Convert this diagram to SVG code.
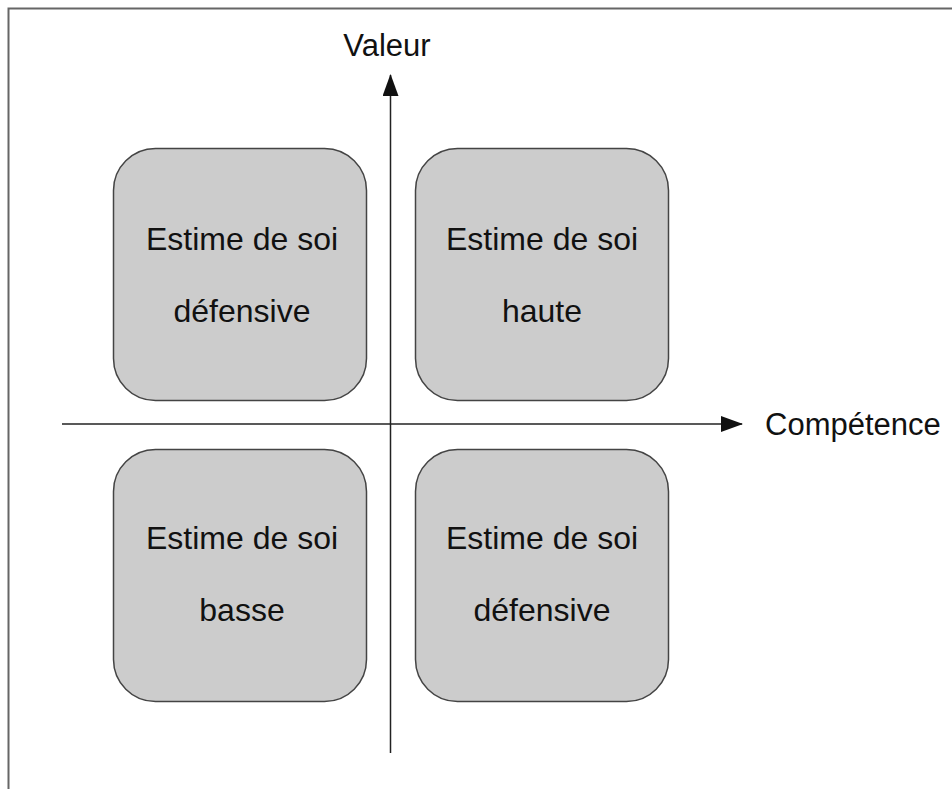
<svg xmlns="http://www.w3.org/2000/svg" width="952" height="789" viewBox="0 0 952 789">
<style>
.box{fill:#cccccc;stroke:#444444;stroke-width:1.5}
.t{font-family:"Liberation Sans",Arial,sans-serif;font-size:32px;fill:#111111}
.l{font-size:31px}
.m{text-anchor:middle}
.ax{stroke:#222222;stroke-width:1.5;fill:none}
</style>
<defs>
<marker id="ah" markerWidth="22" markerHeight="16" refX="21" refY="8" orient="auto" markerUnits="userSpaceOnUse">
<path d="M0,0 L22,8 L0,16 Z" fill="#111111"/>
</marker>
</defs>
<rect x="0" y="0" width="952" height="789" fill="#ffffff"/>
<path d="M8.5,789 L8.5,8.5 L952,8.5" fill="none" stroke="#666666" stroke-width="2"/>
<g id="connectors">
<line class="ax" x1="390.5" y1="753" x2="390.5" y2="75" marker-end="url(#ah)"/>
<line class="ax" x1="62" y1="424" x2="742" y2="424" marker-end="url(#ah)"/>
</g>
<g id="axis-valeur"><text class="t l m" x="387" y="56">Valeur</text></g>
<g id="axis-competence"><text class="t l" x="765" y="435">Compétence</text></g>
<g id="node-tl">
<rect class="box" x="113.5" y="148.5" width="253" height="252" rx="42" ry="42"/>
<text class="t m" x="242" y="250">Estime de soi</text>
<text class="t m" x="242" y="322">défensive</text>
</g>
<g id="node-tr">
<rect class="box" x="415.5" y="148.5" width="253" height="252" rx="42" ry="42"/>
<text class="t m" x="542" y="250">Estime de soi</text>
<text class="t m" x="542" y="322">haute</text>
</g>
<g id="node-bl">
<rect class="box" x="113.5" y="449.5" width="253" height="252" rx="42" ry="42"/>
<text class="t m" x="242" y="549">Estime de soi</text>
<text class="t m" x="242" y="621">basse</text>
</g>
<g id="node-br">
<rect class="box" x="415.5" y="449.5" width="253" height="252" rx="42" ry="42"/>
<text class="t m" x="542" y="549">Estime de soi</text>
<text class="t m" x="542" y="621">défensive</text>
</g>
</svg>
